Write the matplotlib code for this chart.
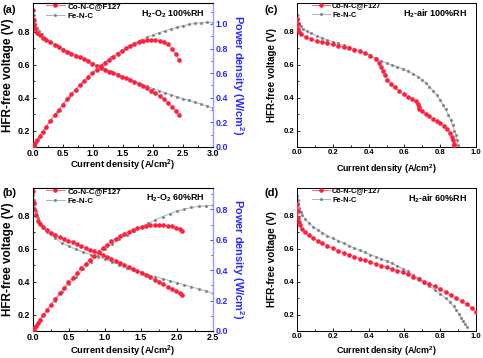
import numpy as np
import matplotlib
matplotlib.use("Agg")
import matplotlib.pyplot as plt
from matplotlib.ticker import MultipleLocator, FormatStrFormatter

plt.rcParams['font.family'] = ['Liberation Sans', 'DejaVu Sans']
plt.rcParams['font.weight'] = 'bold'
plt.rcParams['axes.labelweight'] = 'bold'
plt.rcParams['mathtext.fontset'] = 'custom'
plt.rcParams['mathtext.rm'] = 'Liberation Sans:bold'
plt.rcParams['mathtext.it'] = 'Liberation Sans:bold'
plt.rcParams['mathtext.bf'] = 'Liberation Sans:bold'

# ---- (a) H2-O2 100%RH ----
a_co_j = [0, 0.01, 0.02, 0.04, 0.07, 0.11, 0.16, 0.22, 0.29, 0.36, 0.43, 0.50, 0.57, 0.64, 0.71, 0.78,
          0.85, 0.92, 0.99, 1.06, 1.13, 1.20, 1.27, 1.34, 1.41, 1.48, 1.55, 1.62, 1.69, 1.76, 1.83, 1.90,
          1.97, 2.04, 2.11, 2.18, 2.25, 2.32, 2.38, 2.43]
a_co_v = [0.93, 0.87, 0.84, 0.815, 0.795, 0.78, 0.765, 0.75, 0.735, 0.72, 0.705, 0.69, 0.68, 0.668, 0.655,
          0.645, 0.633, 0.62, 0.605, 0.592, 0.581, 0.569, 0.558, 0.547, 0.537, 0.528, 0.518, 0.508, 0.497,
          0.484, 0.471, 0.458, 0.443, 0.427, 0.41, 0.391, 0.37, 0.344, 0.318, 0.292]
a_co_p = [0, 0.009, 0.017, 0.033, 0.056, 0.086, 0.122, 0.165, 0.213, 0.259, 0.303, 0.345, 0.388, 0.428,
          0.465, 0.503, 0.538, 0.570, 0.599, 0.628, 0.657, 0.683, 0.709, 0.733, 0.757, 0.781, 0.803, 0.823,
          0.840, 0.852, 0.862, 0.870, 0.873, 0.871, 0.865, 0.852, 0.833, 0.798, 0.757, 0.710]
a_fe_j = [0, 0.01, 0.02, 0.04, 0.07, 0.1, 0.15, 0.2, 0.3, 0.4, 0.5, 0.6, 0.7, 0.8, 0.9, 1.0, 1.1, 1.2,
          1.3, 1.4, 1.5, 1.6, 1.7, 1.8, 1.9, 2.0, 2.1, 2.2, 2.3, 2.4, 2.5, 2.6, 2.7, 2.8, 2.9, 3.0]
a_fe_v = [0.935, 0.9, 0.875, 0.85, 0.825, 0.805, 0.785, 0.765, 0.74, 0.718, 0.698, 0.68, 0.662, 0.644,
          0.626, 0.609, 0.592, 0.576, 0.56, 0.544, 0.528, 0.513, 0.498, 0.483, 0.469, 0.455, 0.442, 0.429,
          0.417, 0.405, 0.394, 0.383, 0.372, 0.361, 0.349, 0.337]
a_fe_p = [0, 0.009, 0.018, 0.034, 0.058, 0.081, 0.118, 0.153, 0.222, 0.287, 0.349, 0.408, 0.463, 0.515,
          0.563, 0.609, 0.651, 0.691, 0.728, 0.762, 0.792, 0.821, 0.847, 0.869, 0.891, 0.910, 0.928, 0.944,
          0.959, 0.972, 0.985, 0.996, 1.004, 1.011, 1.012, 1.011]

# ---- (b) H2-O2 60%RH ----
b_co_j = [0, 0.01, 0.02, 0.04, 0.07, 0.1, 0.14, 0.19, 0.25, 0.31, 0.37, 0.43, 0.49, 0.55, 0.61, 0.67,
          0.73, 0.79, 0.85, 0.91, 0.97, 1.03, 1.09, 1.15, 1.21, 1.27, 1.33, 1.39, 1.45, 1.51, 1.57, 1.63,
          1.69, 1.75, 1.81, 1.87, 1.93, 1.99, 2.04, 2.07]
b_co_v = [0.95, 0.88, 0.84, 0.805, 0.77, 0.75, 0.73, 0.713, 0.697, 0.684, 0.672, 0.661, 0.65, 0.639,
          0.628, 0.617, 0.606, 0.595, 0.584, 0.573, 0.562, 0.551, 0.54, 0.528, 0.516, 0.504, 0.492, 0.479,
          0.466, 0.453, 0.44, 0.426, 0.412, 0.398, 0.384, 0.37, 0.356, 0.341, 0.329, 0.318]
b_co_p = [0, 0.009, 0.017, 0.032, 0.054, 0.075, 0.102, 0.135, 0.174, 0.212, 0.249, 0.284, 0.319, 0.351,
          0.383, 0.413, 0.442, 0.470, 0.496, 0.521, 0.545, 0.568, 0.589, 0.607, 0.624, 0.640, 0.654, 0.666,
          0.676, 0.684, 0.691, 0.694, 0.696, 0.697, 0.695, 0.692, 0.687, 0.679, 0.671, 0.658]
b_fe_j = [0, 0.01, 0.02, 0.04, 0.07, 0.1, 0.15, 0.2, 0.3, 0.4, 0.5, 0.6, 0.7, 0.8, 0.9, 1.0, 1.1, 1.2,
          1.3, 1.4, 1.5, 1.6, 1.7, 1.8, 1.9, 2.0, 2.1, 2.2, 2.3, 2.4, 2.5]
b_fe_v = [0.93, 0.9, 0.87, 0.83, 0.79, 0.76, 0.725, 0.70, 0.665, 0.638, 0.615, 0.597, 0.58, 0.565, 0.551,
          0.537, 0.521, 0.504, 0.485, 0.469, 0.456, 0.443, 0.43, 0.418, 0.406, 0.394, 0.381, 0.369, 0.356,
          0.343, 0.33]
b_fe_p = [0, 0.009, 0.017, 0.033, 0.055, 0.076, 0.109, 0.14, 0.2, 0.255, 0.308, 0.358, 0.406, 0.452,
          0.496, 0.537, 0.573, 0.605, 0.631, 0.657, 0.684, 0.709, 0.731, 0.752, 0.771, 0.788, 0.8, 0.812,
          0.819, 0.823, 0.825]

# ---- (c) H2-air 100%RH ----
c_co_j = [0, 0.003, 0.006, 0.012, 0.025, 0.05, 0.08, 0.11, 0.14, 0.17, 0.2, 0.23, 0.26, 0.29, 0.32, 0.35,
          0.38, 0.41, 0.44, 0.46, 0.47, 0.48, 0.49, 0.505, 0.525, 0.545, 0.57, 0.595, 0.62, 0.645, 0.665,
          0.676, 0.679, 0.684, 0.70, 0.72, 0.74, 0.76, 0.78, 0.80, 0.82, 0.84, 0.855, 0.866, 0.873, 0.877,
          0.879]
c_co_v = [0.875, 0.845, 0.82, 0.80, 0.785, 0.768, 0.755, 0.745, 0.737, 0.73, 0.724, 0.716, 0.708, 0.70,
          0.692, 0.682, 0.67, 0.655, 0.635, 0.61, 0.585, 0.56, 0.535, 0.51, 0.485, 0.462, 0.44, 0.42, 0.403,
          0.39, 0.378, 0.362, 0.345, 0.33, 0.318, 0.302, 0.287, 0.272, 0.258, 0.244, 0.228, 0.208, 0.185,
          0.16, 0.14, 0.12, 0.105]
c_fe_j = [0, 0.004, 0.01, 0.02, 0.035, 0.055, 0.08, 0.11, 0.14, 0.17, 0.2, 0.23, 0.26, 0.29, 0.32, 0.35,
          0.38, 0.41, 0.44, 0.47, 0.50, 0.53, 0.56, 0.59, 0.62, 0.65, 0.675, 0.70, 0.72, 0.74, 0.76, 0.78,
          0.80, 0.815, 0.83, 0.845, 0.858, 0.869, 0.879, 0.887, 0.894, 0.899, 0.902]
c_fe_v = [0.905, 0.875, 0.855, 0.835, 0.815, 0.802, 0.79, 0.776, 0.762, 0.75, 0.739, 0.729, 0.719, 0.709,
          0.698, 0.686, 0.672, 0.656, 0.638, 0.622, 0.61, 0.598, 0.587, 0.575, 0.561, 0.545, 0.528, 0.508,
          0.488, 0.466, 0.442, 0.415, 0.384, 0.357, 0.328, 0.297, 0.265, 0.232, 0.2, 0.17, 0.14, 0.115,
          0.1]

# ---- (d) H2-air 60%RH ----
d_co_j = [0, 0.003, 0.006, 0.01, 0.018, 0.03, 0.045, 0.065, 0.09, 0.115, 0.14, 0.17, 0.2, 0.23, 0.26,
          0.29, 0.32, 0.35, 0.38, 0.41, 0.44, 0.47, 0.50, 0.53, 0.56, 0.59, 0.62, 0.65, 0.68, 0.71, 0.74,
          0.77, 0.80, 0.83, 0.86, 0.89, 0.92, 0.95, 0.975, 1.0]
d_co_v = [0.87, 0.83, 0.79, 0.765, 0.742, 0.722, 0.703, 0.684, 0.665, 0.648, 0.633, 0.617, 0.602, 0.589,
          0.576, 0.564, 0.552, 0.541, 0.53, 0.519, 0.509, 0.498, 0.488, 0.478, 0.468, 0.457, 0.445, 0.43,
          0.415, 0.4, 0.386, 0.371, 0.355, 0.337, 0.318, 0.299, 0.28, 0.262, 0.242, 0.215]
d_fe_j = [0, 0.003, 0.007, 0.012, 0.02, 0.03, 0.045, 0.065, 0.09, 0.115, 0.14, 0.17, 0.2, 0.23, 0.26,
          0.29, 0.32, 0.35, 0.38, 0.41, 0.44, 0.47, 0.50, 0.53, 0.56, 0.59, 0.62, 0.65, 0.68, 0.71, 0.74,
          0.77, 0.80, 0.83, 0.855, 0.875, 0.89, 0.905, 0.918, 0.93, 0.94, 0.948]
d_fe_v = [0.92, 0.895, 0.87, 0.85, 0.825, 0.805, 0.78, 0.758, 0.735, 0.715, 0.698, 0.681, 0.664, 0.649,
          0.634, 0.62, 0.605, 0.592, 0.578, 0.565, 0.552, 0.539, 0.526, 0.511, 0.496, 0.48, 0.462, 0.443,
          0.42, 0.395, 0.372, 0.35, 0.327, 0.3, 0.275, 0.25, 0.228, 0.205, 0.18, 0.158, 0.14, 0.127]

panel_letters = ['(a)', '(b)', '(c)', '(d)']
conditions = ['H$_2$-O$_2$ 100%RH', 'H$_2$-O$_2$ 60%RH', 'H$_2$-air 100%RH', 'H$_2$-air 60%RH']
series_names = ['Co-N-C@F127', 'Fe-N-C']

RED_M, RED_L = '#ff1f3a', '#ff6a7a'
GRY_M, GRY_L = '#6f7d7d', '#aab5b5'
BLUE = '#2a2aff'
BLUE_SPINE = '#9c9cff'


def bold_ticks(ax):
    for lbl in ax.get_xticklabels() + ax.get_yticklabels():
        lbl.set_fontweight('bold')


def style_ax(ax, xmax, xmaj, xmin, ytop, tick_fs, xl_fs, yl_fs, xl_y):
    ax.set_xlim(0, xmax)
    ax.set_ylim(0.1, ytop)
    ax.xaxis.set_major_locator(MultipleLocator(xmaj))
    ax.xaxis.set_minor_locator(MultipleLocator(xmin))
    ax.set_yticks([0.2, 0.4, 0.6, 0.8])
    ax.yaxis.set_minor_locator(MultipleLocator(0.1))
    ax.tick_params(which='both', direction='in', labelsize=tick_fs, width=0.6)
    ax.tick_params(axis='x', pad=1.5)
    ax.tick_params(axis='y', pad=2)
    ax.tick_params(which='major', length=2.5)
    ax.tick_params(which='minor', length=1.5)
    ax.tick_params(axis='y', which='both', right=False)
    ax.xaxis.set_major_formatter(FormatStrFormatter('%.1f'))
    ax.yaxis.set_major_formatter(FormatStrFormatter('%.1f'))
    for s in ax.spines.values():
        s.set_linewidth(0.7)
    ax.set_xlabel('Current density (A/cm$^2$)', fontsize=xl_fs, fontweight='bold')
    ax.set_ylabel('HFR-free voltage (V)', fontsize=yl_fs, fontweight='bold', va='center')
    ax.xaxis.set_label_coords(0.5, xl_y)
    ax.xaxis.label.set_va('top')
    ax.yaxis.set_label_coords(-0.139, 0.5)
    bold_ticks(ax)


def plot_pair(ax, jr, vr, jg, vg):
    ax.plot(jr, vr, color=RED_L, lw=0.7, marker='o', ms=2.3, mfc=RED_M, mec=RED_M,
            label=series_names[0], zorder=3)
    ax.plot(jg, vg, color=GRY_L, lw=0.7, marker='o', ms=2.1, mfc=GRY_M, mec=GRY_L, mew=0.3,
            label=series_names[1], zorder=2)


def add_power(ax, jr, pr, jg, pg, ymax, ticks, tick_fs, lab_x):
    ax2 = ax.twinx()
    ax2.plot(jr, pr, color=RED_L, lw=0.7, marker='o', ms=2.3, mfc=RED_M, mec=RED_M, zorder=3)
    ax2.plot(jg, pg, color=GRY_L, lw=0.7, marker='o', ms=2.1, mfc=GRY_M, mec=GRY_L, mew=0.3, zorder=2)
    ax2.set_ylim(0, ymax)
    ax2.set_yticks(ticks)
    ax2.yaxis.set_minor_locator(MultipleLocator(0.1))
    ax2.tick_params(which='both', direction='in', labelsize=tick_fs, colors=BLUE, width=0.6, pad=2)
    ax2.tick_params(which='major', length=2.5)
    ax2.tick_params(which='minor', length=1.5)
    ax2.yaxis.set_major_formatter(FormatStrFormatter('%.1f'))
    ax2.spines['right'].set_color(BLUE_SPINE)
    ax2.spines['right'].set_linewidth(1.0)
    ax2.set_ylabel('Power density (W/cm$^2$)', fontsize=7.9, color=BLUE, rotation=270,
                   fontweight='bold', va='center')
    ax2.yaxis.set_label_coords(lab_x, 0.5)
    bold_ticks(ax2)
    return ax2


fig = plt.figure(figsize=(4.83, 3.58), dpi=100)
W, H = 483.0, 358.0
ax_a = fig.add_axes([33 / W, 1 - 147 / H, 180 / W, 144 / H])
ax_b = fig.add_axes([33 / W, 1 - 331 / H, 180 / W, 143 / H])
ax_c = fig.add_axes([297 / W, 1 - 147 / H, 179 / W, 144 / H])
ax_d = fig.add_axes([297 / W, 1 - 331 / H, 179 / W, 143 / H])

plot_pair(ax_a, a_co_j, a_co_v, a_fe_j, a_fe_v)
style_ax(ax_a, 3.0, 0.5, 0.25, 0.975, 6.4, 6.7, 8.5, -0.076)
add_power(ax_a, a_co_j, a_co_p, a_fe_j, a_fe_p, 1.17, [0.0, 0.2, 0.4, 0.6, 0.8, 1.0], 6.4, 1.138)

plot_pair(ax_b, b_co_j, b_co_v, b_fe_j, b_fe_v)
style_ax(ax_b, 2.5, 0.5, 0.25, 0.97, 6.4, 6.7, 8.5, -0.086)
add_power(ax_b, b_co_j, b_co_p, b_fe_j, b_fe_p, 0.94, [0.0, 0.2, 0.4, 0.6, 0.8], 6.4, 1.138)

plot_pair(ax_c, c_co_j, c_co_v, c_fe_j, c_fe_v)
style_ax(ax_c, 1.0, 0.2, 0.1, 0.975, 5.6, 6.4, 7.0, -0.108)

plot_pair(ax_d, d_co_j, d_co_v, d_fe_j, d_fe_v)
style_ax(ax_d, 1.0, 0.2, 0.1, 0.97, 5.6, 6.4, 7.2, -0.092)

leg_x = [0.07, 0.07, 0.085, 0.085]
leg_fs = [5.8, 5.8, 5.3, 5.3]
cond_fs = [6.4, 6.4, 6.5, 6.5]
letter_pos = [(-0.172, 0.95), (-0.172, 0.965), (-0.179, 0.95), (-0.179, 0.965)]
for i, ax in enumerate((ax_a, ax_b, ax_c, ax_d)):
    ax.legend(loc='upper left', bbox_to_anchor=(leg_x[i], 1.005), frameon=False,
              prop={'size': leg_fs[i], 'weight': 'bold'},
              handlelength=2.4, handletextpad=0.3, labelspacing=0.3, numpoints=1, borderaxespad=0,
              borderpad=0)
    ax.text(0.95, 0.925, conditions[i], transform=ax.transAxes, ha='right', va='center',
            fontsize=cond_fs[i], fontweight='bold')
    ax.text(letter_pos[i][0], letter_pos[i][1], panel_letters[i], transform=ax.transAxes,
            ha='left', va='center', fontsize=8, fontweight='bold')

fig.savefig('out.png', dpi=100)
